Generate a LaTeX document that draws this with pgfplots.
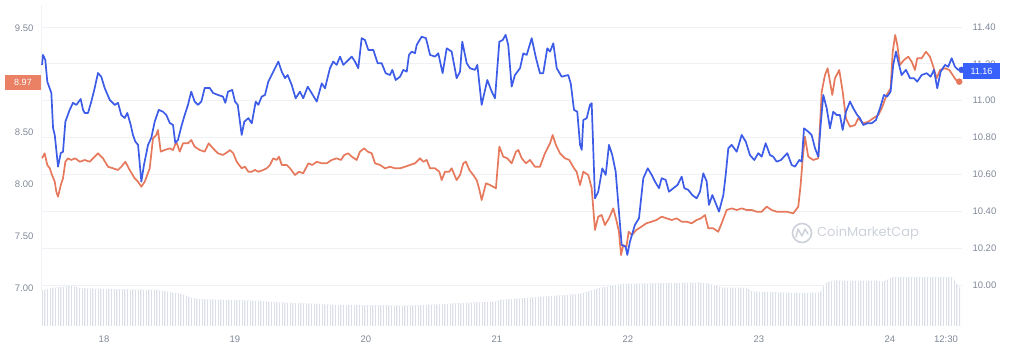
\documentclass[border=0pt]{standalone}
\usepackage{fontspec}
\setmainfont{Liberation Sans}
\newfontfamily\wmfont{Poppins}
\usepackage{pgfplots}
\pgfplotsset{compat=1.18}
\usetikzlibrary{patterns.meta}
\definecolor{cmcblue}{RGB}{60,92,232}
\definecolor{cmcboxblue}{RGB}{56,97,251}
\definecolor{cmcorange}{RGB}{230,120,92}
\definecolor{cmcboxorange}{RGB}{234,128,100}
\definecolor{ticktext}{RGB}{128,136,152}
\definecolor{gridc}{RGB}{240,241,244}
\definecolor{volc}{RGB}{218,223,234}
\definecolor{wmc}{RGB}{205,209,218}
\pgfplotsset{
  base/.style={
    scale only axis, width=921pt, height=321pt,
    xmin=17.519, xmax=24.550,
    at={(41pt,37pt)}, anchor=south west,
    axis line style={draw=none}, tick style={draw=none},
    major tick length=0pt,
    ticklabel style={font=\fontsize{9.5}{10}\selectfont, text=ticktext},
    /pgf/number format/assume math mode=true,
    y tick label style={/pgf/number format/fixed, /pgf/number format/fixed zerofill, /pgf/number format/precision=2},
  },
  hidden/.style={base, xtick=\empty, ytick=\empty},
}
\begin{document}
\begin{tikzpicture}
\path[use as bounding box] (0,0) rectangle (1024pt,363pt);
% grid, right axis, x ticks
\begin{axis}[base,
  ymin=9.7775, ymax=11.519,
  ytick={10,10.2,10.4,10.6,10.8,11,11.2,11.4},
  ymajorgrids, grid style={gridc, line width=0.8pt},
  yticklabel pos=right,
  yticklabel style={anchor=west, xshift=7pt},
  xtick={18,19,20,21,22,23,24},
  extra x ticks={24.428}, extra x tick labels={12:30},
  xticklabel style={yshift=-6pt},
  extra x tick style={major grid style={draw=none}},
]
\draw[gridc, line width=0.8pt] (rel axis cs:0,0) -- (rel axis cs:0,1);
\draw[gridc, line width=0.8pt] (rel axis cs:1,0) -- (rel axis cs:1,1);
\end{axis}
% volume
\begin{axis}[hidden, ymin=0, ymax=321]
\addplot[fill=volc, draw=none,
  postaction={pattern={Lines[angle=90, distance=1.6pt, line width=0.5pt]}, pattern color=white}] coordinates {
(17.519,35.3) (17.524,35.3) (17.611,38) (17.702,39.3) (17.763,40) (17.817,37.7) (17.970,37)
(18.405,36) (18.481,34.3) (18.580,32) (18.679,27.7) (18.733,26.7) (19.191,25) (19.290,23.7)
(19.626,22) (19.748,21) (20.336,20.3) (20.588,21.7) (20.695,22.7) (20.999,24.3) (21.023,26)
(21.634,32) (21.786,38) (21.962,42) (22.550,43.3) (22.603,42.7) (22.725,38) (22.908,38)
(22.954,34.3) (23.313,32.7) (23.466,33.3) (23.504,42.7) (23.565,45.3) (23.901,45) (23.947,44.3)
(24.023,48.7) (24.481,48.7) (24.512,41) (24.535,38)
} \closedcycle;
\end{axis}
% orange, left axis
\begin{axis}[base,
  ymin=6.635, ymax=9.721,
  ytick={7,7.5,8,8.5,9.5},
  yticklabel style={anchor=east, xshift=-4pt},
  xtick=\empty,
]
\addplot[cmcorange, line width=1.7pt, line join=round] coordinates {
(17.527,8.247) (17.547,8.295) (17.567,8.183) (17.586,8.151) (17.603,8.087) (17.624,8.022) (17.636,7.926) (17.649,7.878) (17.670,7.990) (17.687,8.055) (17.705,8.214) (17.725,8.247) (17.750,8.231) (17.781,8.247) (17.815,8.214) (17.853,8.231) (17.891,8.214) (17.929,8.263) (17.954,8.295) (17.992,8.247) (18.031,8.166) (18.069,8.151) (18.107,8.135) (18.132,8.166) (18.163,8.214) (18.196,8.135) (18.234,8.055) (18.260,8.022) (18.285,7.974) (18.311,8.022) (18.349,8.151) (18.374,8.439) (18.399,8.471) (18.412,8.519) (18.433,8.311) (18.463,8.327) (18.502,8.343) (18.527,8.327) (18.552,8.407) (18.578,8.311) (18.603,8.391) (18.641,8.391) (18.666,8.423) (18.692,8.359) (18.731,8.327) (18.769,8.311) (18.799,8.391) (18.832,8.343) (18.870,8.295) (18.908,8.279) (18.947,8.311)
(18.962,8.327) (18.987,8.295) (19.013,8.214) (19.051,8.151) (19.076,8.166) (19.102,8.118) (19.128,8.118) (19.153,8.135) (19.178,8.118) (19.216,8.135) (19.242,8.151) (19.267,8.183) (19.292,8.247) (19.318,8.231) (19.336,8.263) (19.357,8.183) (19.395,8.183) (19.420,8.151) (19.458,8.087) (19.489,8.118) (19.521,8.103) (19.560,8.199) (19.590,8.183) (19.624,8.214) (19.662,8.199) (19.700,8.199) (19.738,8.231) (19.776,8.247) (19.809,8.231) (19.834,8.279) (19.865,8.295) (19.891,8.263) (19.929,8.231) (19.954,8.311) (19.987,8.343) (20.013,8.311) (20.044,8.295) (20.069,8.199) (20.107,8.183) (20.145,8.151) (20.183,8.166) (20.221,8.151) (20.260,8.151) (20.298,8.166) (20.336,8.183) (20.374,8.199)
(20.387,8.214) (20.412,8.247) (20.437,8.214) (20.463,8.231) (20.489,8.151) (20.527,8.151) (20.560,8.118) (20.578,8.038) (20.603,8.118) (20.636,8.118) (20.654,8.151) (20.692,8.038) (20.718,8.087) (20.743,8.199) (20.763,8.214) (20.789,8.135) (20.819,8.087) (20.845,8.038) (20.863,7.959) (20.883,7.846) (20.916,8.007) (20.947,7.990) (20.992,7.959) (21.018,8.359) (21.048,8.263) (21.079,8.247) (21.112,8.199) (21.145,8.311) (21.163,8.327) (21.189,8.247) (21.221,8.199) (21.252,8.231) (21.290,8.166) (21.328,8.166) (21.366,8.295) (21.405,8.391) (21.425,8.471) (21.450,8.375) (21.481,8.295) (21.519,8.247) (21.552,8.231) (21.588,8.151) (21.608,8.118) (21.634,7.990) (21.659,8.118) (21.697,8.087) (21.723,7.959) (21.748,7.558) (21.773,7.686)
(21.799,7.702) (21.824,7.606) (21.855,7.670) (21.888,7.766) (21.914,7.638) (21.931,7.541) (21.947,7.317) (21.964,7.413) (21.988,7.397) (22.005,7.541) (22.030,7.510) (22.064,7.558) (22.102,7.589) (22.140,7.622) (22.181,7.638) (22.217,7.654) (22.257,7.686) (22.295,7.670) (22.334,7.654) (22.372,7.670) (22.410,7.638) (22.448,7.638) (22.486,7.622) (22.524,7.654) (22.557,7.670) (22.588,7.702) (22.613,7.574) (22.651,7.574) (22.689,7.541) (22.720,7.638) (22.753,7.750) (22.792,7.766) (22.830,7.750) (22.868,7.766) (22.906,7.750) (22.944,7.750) (22.982,7.734) (23.021,7.734) (23.059,7.782) (23.097,7.750) (23.135,7.734)
(23.211,7.734) (23.262,7.718) (23.300,7.782) (23.318,7.990) (23.334,8.247) (23.351,8.455) (23.376,8.263) (23.414,8.231) (23.453,8.247) (23.479,8.888) (23.504,9.048) (23.524,9.113) (23.542,8.984) (23.560,8.856) (23.580,9.016) (23.613,9.096) (23.639,8.888) (23.664,8.632) (23.695,8.551) (23.733,8.567) (23.758,8.632) (23.796,8.584) (23.834,8.599) (23.872,8.632) (23.911,8.663) (23.937,8.728) (23.975,8.856) (24.005,8.920) (24.021,9.272) (24.040,9.433) (24.056,9.337) (24.076,9.144) (24.107,9.192) (24.140,9.224) (24.166,9.176) (24.191,9.096) (24.208,9.209) (24.242,9.209) (24.275,9.272) (24.305,9.224) (24.331,9.128) (24.356,9.016) (24.382,9.096) (24.420,9.113) (24.453,9.096) (24.479,9.048) (24.504,9.000) (24.529,8.984)
};
\addplot[only marks, mark=*, mark size=3pt, cmcorange] coordinates {(24.529,8.984)};
\end{axis}
% blue, right scale
\begin{axis}[hidden, ymin=9.7775, ymax=11.519]
\addplot[cmcblue, line width=1.7pt, line join=round] coordinates {
(17.527,11.194) (17.534,11.248) (17.552,11.221) (17.567,11.103) (17.598,11.042) (17.611,10.852) (17.624,10.814) (17.649,10.642) (17.670,10.716) (17.687,10.722) (17.705,10.886) (17.738,10.950) (17.763,10.988) (17.789,10.977) (17.822,11.009) (17.840,10.950) (17.853,10.933) (17.878,10.933) (17.903,10.995) (17.929,11.069) (17.954,11.150) (17.979,11.130) (18.005,11.069) (18.044,11.004) (18.082,10.977) (18.107,10.988) (18.132,10.922) (18.158,10.906) (18.178,10.933) (18.204,10.868) (18.221,10.814) (18.239,10.778) (18.260,10.760) (18.285,10.561) (18.305,10.651) (18.336,10.760) (18.361,10.798) (18.387,10.886) (18.418,10.950) (18.450,10.940) (18.476,10.922) (18.502,10.879) (18.527,10.868) (18.544,10.771) (18.565,10.787) (18.590,10.859) (18.616,10.922) (18.641,10.977) (18.666,11.049) (18.692,10.995) (18.718,10.977) (18.743,10.995) (18.769,11.069) (18.807,11.069) (18.832,11.042) (18.870,11.031) (18.908,11.022) (18.926,10.988) (18.947,11.049)
(18.979,11.058) (19.000,10.995) (19.021,10.977) (19.051,10.814) (19.071,10.886) (19.102,10.905) (19.128,10.877) (19.158,10.995) (19.178,10.977) (19.204,11.022) (19.229,11.031) (19.254,11.103) (19.292,11.157) (19.331,11.212) (19.357,11.157) (19.382,11.122) (19.402,11.139) (19.433,11.085) (19.463,11.013) (19.496,11.049) (19.521,11.013) (19.555,11.076) (19.586,11.040) (19.624,10.995) (19.662,11.094) (19.687,11.067) (19.725,11.176) (19.750,11.212) (19.776,11.194) (19.802,11.239) (19.827,11.194) (19.853,11.212) (19.891,11.239) (19.916,11.212) (19.941,11.176) (19.967,11.339) (19.992,11.329) (20.018,11.275) (20.056,11.275) (20.089,11.203) (20.120,11.203) (20.150,11.149) (20.183,11.139) (20.201,11.167) (20.227,11.112) (20.260,11.130) (20.285,11.167) (20.311,11.157) (20.328,11.248) (20.349,11.266) (20.374,11.257)
(20.387,11.302) (20.425,11.347) (20.458,11.339) (20.489,11.248) (20.527,11.239) (20.552,11.257) (20.585,11.149) (20.616,11.284) (20.654,11.266) (20.692,11.122) (20.718,11.157) (20.735,11.320) (20.769,11.203) (20.794,11.176) (20.832,11.167) (20.850,11.194) (20.883,10.977) (20.926,11.112) (20.960,11.049) (20.985,11.013) (21.018,11.320) (21.044,11.329) (21.066,11.357) (21.086,11.302) (21.112,11.076) (21.137,11.139) (21.176,11.176) (21.201,11.257) (21.227,11.248) (21.265,11.339) (21.298,11.230) (21.328,11.149) (21.353,11.149) (21.384,11.284) (21.405,11.266) (21.430,11.311) (21.456,11.176) (21.494,11.130) (21.544,11.139) (21.563,11.094) (21.588,10.950) (21.613,10.940) (21.634,10.760) (21.647,10.733) (21.659,10.895) (21.685,10.905) (21.710,10.977) (21.723,10.986) (21.748,10.470) (21.773,10.506)
(21.804,10.633) (21.830,10.597) (21.855,10.760) (21.880,10.705) (21.906,10.615) (21.931,10.398) (21.952,10.217) (21.982,10.208) (21.995,10.163) (22.015,10.235) (22.053,10.326) (22.084,10.362) (22.117,10.579) (22.151,10.633) (22.181,10.597) (22.206,10.561) (22.237,10.525) (22.257,10.579) (22.288,10.570) (22.313,10.506) (22.346,10.525) (22.379,10.543) (22.410,10.588) (22.430,10.525) (22.460,10.516) (22.491,10.488) (22.524,10.470) (22.550,10.506) (22.575,10.606) (22.601,10.561) (22.618,10.434) (22.644,10.488) (22.670,10.443) (22.695,10.398) (22.728,10.488) (22.746,10.597) (22.766,10.742) (22.792,10.760) (22.830,10.723) (22.868,10.814) (22.899,10.778) (22.931,10.705) (22.964,10.678) (22.995,10.715) (23.021,10.696) (23.051,10.769) (23.084,10.705) (23.109,10.696) (23.135,10.669) (23.168,10.678)
(23.191,10.696) (23.216,10.715) (23.250,10.651) (23.275,10.642) (23.308,10.678) (23.326,10.669) (23.344,10.850) (23.376,10.832) (23.402,10.814) (23.428,10.742) (23.453,10.696) (23.471,10.868) (23.491,11.031) (23.517,10.959) (23.542,10.850) (23.567,10.940) (23.593,10.922) (23.618,10.922) (23.639,10.841) (23.664,10.940) (23.695,10.995) (23.720,10.959) (23.750,10.922) (23.771,10.905) (23.796,10.868) (23.827,10.877) (23.860,10.877) (23.893,10.895) (23.924,10.959) (23.954,11.031) (23.979,11.022) (24.005,11.049) (24.025,11.194) (24.046,11.266) (24.063,11.212) (24.089,11.139) (24.122,11.167) (24.153,11.122) (24.183,11.122) (24.208,11.103) (24.242,11.139) (24.280,11.149) (24.311,11.130) (24.336,11.167) (24.361,11.067) (24.387,11.157) (24.420,11.194) (24.445,11.184) (24.471,11.230) (24.496,11.184) (24.522,11.167) (24.547,11.167)
};
\addplot[only marks, mark=*, mark size=3pt, cmcblue] coordinates {(24.547,11.167)};
\end{axis}
% price boxes
\node[fill=cmcboxorange, text=white, inner sep=0pt, minimum width=36pt, minimum height=15pt,
  font=\fontsize{9}{10}\selectfont] at (23pt,280.5pt) {8.97};
\node[fill=cmcboxblue, text=white, inner sep=0pt, minimum width=37pt, minimum height=16pt,
  font=\fontsize{9}{10}\selectfont] at (981.5pt,292pt) {11.16};
% watermark
\draw[wmc, line width=1.6pt] (802pt,130pt) circle (9.5pt);
\draw[wmc, line width=1.5pt, line join=round, line cap=round]
  (796pt,126pt) -- (798pt,134pt) -- (802pt,127pt) -- (805pt,134pt) -- (808pt,129pt);
\node[anchor=west, text=wmc, inner sep=0pt, font=\wmfont\fontsize{13}{14}\selectfont] at (817pt,130pt) {CoinMarketCap};
\end{tikzpicture}
\end{document}
